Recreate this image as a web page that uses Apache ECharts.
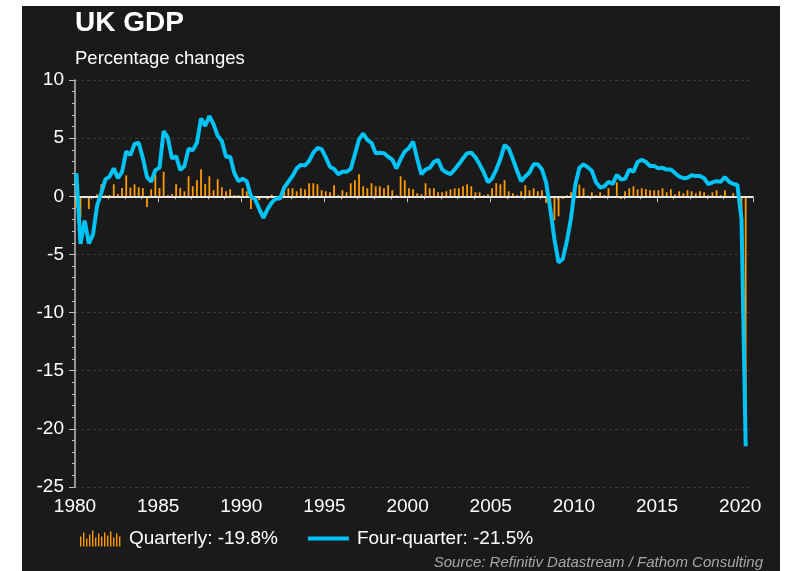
<!DOCTYPE html>
<html>
<head>
<meta charset="utf-8">
<script src="https://cdn.jsdelivr.net/npm/echarts@6/dist/echarts.min.js"></script>
<style>
  html, body { margin: 0; padding: 0; background: #fff; }
  #frame { position: absolute; left: 22px; top: 6px; width: 758px; height: 565px; background: #1a1a1a; }
  #chart { position: absolute; left: 0; top: 0; width: 785px; height: 571px; }
</style>
</head>
<body>
<div id="frame"></div>
<div id="chart"></div>
<script>
// quarterly % change, 1980 Q1 .. 2020 Q2
const startYear = 1980;
const quarterly = [
  -1.0, -1.8, -0.17, -1.1,
  -0.05, 0.17, 1.03, 0.09,
  0.1, 1.03, 0.2, 0.72,
  1.8, 0.75, 1.03, 0.78,
  0.7, -0.92, 0.6, 1.85,
  0.7, 2.1, 0.1, 0.2,
  1.03, 0.7, 0.43, 1.72,
  0.86, 1.38, 2.33, 1.06,
  1.72, 0.52, 1.47, 0.78,
  0.43, 0.6, 0.1, 0.1,
  0.7, 0.43, -1.1, -0.3,
  -0.34, -0.15, -0.26, 0.15,
  -0.1, 0.1, 0.4, 0.69,
  0.69, 0.43, 0.69, 0.6,
  1.12, 1.12, 1.03, 0.52,
  0.43, 0.34, 0.95, 0.09,
  0.52, 0.34, 1.12, 1.38,
  1.9, 0.86, 0.69, 1.12,
  0.86, 0.86, 0.69, 0.95,
  0.52, 0.09, 1.72, 1.38,
  0.69, 0.6, 0.26, 0.17,
  1.12, 0.69, 0.69, 0.34,
  0.34, 0.43, 0.6, 0.69,
  0.69, 0.86, 1.03, 0.86,
  0.34, 0.34, 0.09, 0.17,
  0.69, 1.12, 1.03, 1.38,
  0.43, 0.26, 0.09, 0.43,
  0.95, 0.52, 0.69, 0.43,
  0.52, -0.57, -1.67, -2.07,
  -1.72, -0.23, 0.09, 0.34,
  0.45, 1.0, 0.69, 0.05,
  0.34, 0.09, 0.34, 0.1,
  0.69, -0.14, 1.2, -0.23,
  0.43, 0.69, 0.86, 0.6,
  0.69, 0.6, 0.52, 0.52,
  0.52, 0.69, 0.34, 0.6,
  0.17, 0.43, 0.26, 0.52,
  0.43, 0.26, 0.43, 0.34,
  0.09, 0.34, 0.52, 0.09,
  0.52, -0.1, 0.26, 0.0,
  -2.2, -19.8
];
// four-quarter % change
const fourQuarter = [
  2.0, -4.1, -2.1, -4.05,
  -3.3, -0.8, 0.3, 1.45,
  1.7, 2.4, 1.55, 2.1,
  3.85, 3.55, 4.5, 4.6,
  3.3, 1.65, 1.25, 2.25,
  2.45, 5.6, 5.05, 3.25,
  3.45, 2.25, 2.6, 4.1,
  3.95, 4.6, 6.7, 6.05,
  6.9, 6.2, 5.2, 4.75,
  3.4, 3.4, 2.0, 1.3,
  1.5, 1.3, 0.0, -0.25,
  -1.1, -1.85, -1.1, -0.55,
  -0.2, -0.2, 0.75, 1.25,
  1.75, 2.4, 2.7, 2.65,
  3.05, 3.75, 4.15, 4.05,
  3.35, 2.55, 2.35, 1.9,
  2.1, 2.1, 2.35, 3.6,
  4.9, 5.4, 4.85, 4.6,
  3.7, 3.75, 3.7, 3.4,
  3.15, 2.4, 3.2, 3.85,
  4.15, 4.7, 3.2, 1.9,
  2.3, 2.45, 2.95, 3.15,
  2.3, 2.05, 1.9, 2.3,
  2.75, 3.25, 3.7, 3.75,
  3.35, 2.75, 2.05, 1.2,
  1.55, 2.3, 3.2, 4.4,
  4.1, 3.2, 2.2, 1.3,
  1.7, 2.05, 2.75, 2.75,
  2.3, 1.2, -1.1, -3.7,
  -5.7, -5.4, -3.85, -1.85,
  0.95, 2.45, 2.75, 2.5,
  2.2, 1.2, 0.75, 0.85,
  1.25, 1.05, 1.85, 1.45,
  1.5, 2.3, 2.1, 2.95,
  3.15, 2.95, 2.6, 2.6,
  2.4, 2.45, 2.3, 2.3,
  2.0, 1.7, 1.55, 1.6,
  1.8, 1.75, 1.75, 1.55,
  1.05, 1.2, 1.3, 1.25,
  1.65, 1.25, 1.05, 1.0,
  -2.0, -21.5
];
const legendNames = ['Quarterly: -19.8%', 'Four-quarter: -21.5%'];

const toPoints = arr => arr.map((v, i) => [startYear + i / 4 + 0.08, v]);

// legend icons: little bar comb and a thick line, padded on the right for spacing
const barIcon = 'path://M0,6h1.4v10h-1.4z M3,2h1.4v14h-1.4z M6,8h1.4v8h-1.4z M9,4h1.4v12h-1.4z M12,0h1.4v16h-1.4z ' +
  'M15,7h1.4v9h-1.4z M18,3h1.4v13h-1.4z M21,6h1.4v10h-1.4z M24,2h1.4v14h-1.4z M27,5h1.4v11h-1.4z ' +
  'M30,1h1.4v15h-1.4z M33,7h1.4v9h-1.4z M36,3h1.4v13h-1.4z M39,6h1.4v10h-1.4z M44,15.99h0.01v0.01h-0.01z';
const lineIcon = 'path://M0,0h42v4h-42z M45,3.99h0.01v0.01h-0.01z';

const chart = echarts.init(document.getElementById('chart'), null, { renderer: 'canvas' });
const font = '"Liberation Sans", Arial, sans-serif';

chart.setOption({
  backgroundColor: 'transparent',
  textStyle: { fontFamily: font },
  animation: false,
  title: [
    { text: 'UK GDP', left: 75, top: 9, padding: 0, textStyle: { color: '#fff', fontSize: 28, fontWeight: 'bold', fontFamily: font } },
    { text: 'Percentage changes', left: 75, top: 49, padding: 0, textStyle: { color: '#fff', fontSize: 18.5, fontWeight: 'normal', fontFamily: font } }
  ],
  legend: {
    left: 80, top: 529, padding: 0,
    itemWidth: 44, itemHeight: 16, itemGap: 30,
    textStyle: { color: '#fff', fontSize: 19, fontFamily: font },
    data: [
      { name: legendNames[0], icon: barIcon, itemWidth: 44 },
      { name: legendNames[1], icon: lineIcon, itemWidth: 45 }
    ]
  },
  grid: { left: 75, right: 32, top: 80, bottom: 84, containLabel: false },
  xAxis: {
    type: 'value', min: 1980, max: 2020.77, interval: 5,
    axisLine: { show: true, lineStyle: { color: '#bdbdbd', width: 1.5 } },
    axisTick: { show: true, inside: false, length: 6, lineStyle: { color: '#bdbdbd' } },
    minorTick: { show: true, splitNumber: 5, length: 3, lineStyle: { color: '#bdbdbd' } },
    splitLine: { show: false },
    axisLabel: { color: '#fff', fontSize: 19, margin: 10, fontFamily: font,
      formatter: v => (v % 5 === 0 ? String(v) : '') }
  },
  yAxis: {
    type: 'value', min: -25, max: 10, interval: 5,
    axisLine: { show: true, lineStyle: { color: '#bdbdbd', width: 1.5 } },
    axisTick: { show: true, inside: false, length: 6, lineStyle: { color: '#bdbdbd' } },
    minorTick: { show: true, splitNumber: 5, length: 3, lineStyle: { color: '#bdbdbd' } },
    splitLine: { show: true, lineStyle: { color: '#383838', type: [3, 3], width: 1 } },
    axisLabel: { color: '#fff', fontSize: 19, margin: 11, fontFamily: font }
  },
  series: [
    {
      name: legendNames[0], type: 'bar', barWidth: 1.8,
      itemStyle: { color: '#ff9a00' },
      data: toPoints(quarterly),
      z: 3,
      markLine: {
        silent: true, symbol: 'none', label: { show: false },
        lineStyle: { color: '#e6e6e6', width: 2, type: 'solid' },
        data: [{ yAxis: 0 }]
      }
    },
    {
      name: legendNames[1], type: 'line', symbol: 'none',
      lineStyle: { color: '#00c3f5', width: 4 },
      itemStyle: { color: '#00c3f5' },
      data: toPoints(fourQuarter),
      z: 5
    }
  ],
  graphic: [
    { type: 'text', right: 22, top: 555,
      style: { text: 'Source: Refinitiv Datastream / Fathom Consulting', fill: '#a6a6a6',
        font: 'italic 15px "Liberation Sans", Arial, sans-serif' } }
  ]
});
</script>
</body>
</html>
